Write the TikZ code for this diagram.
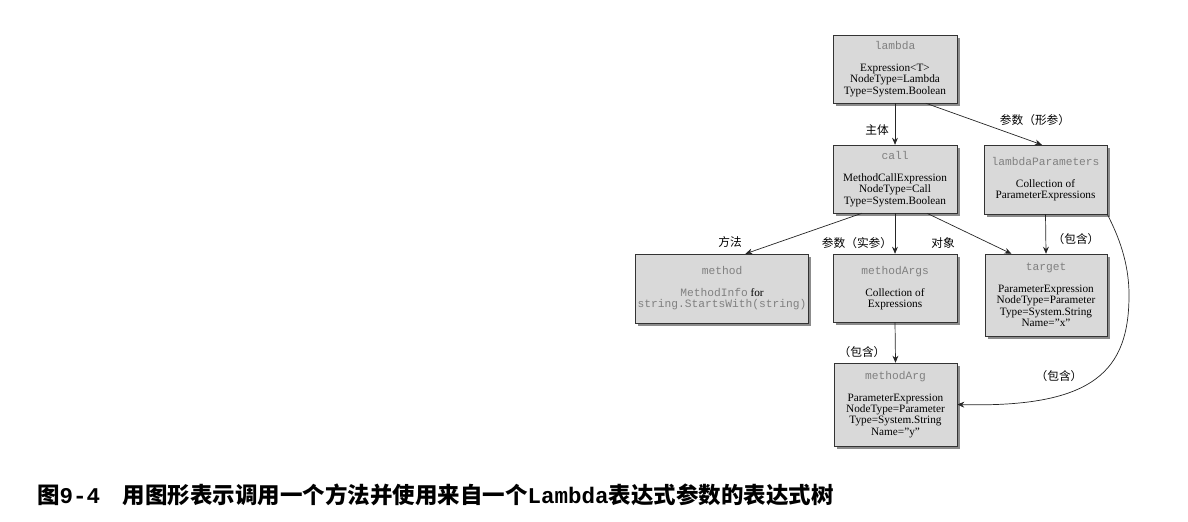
\documentclass[tikz,border=0pt]{standalone}
\usepackage{fontspec}
\setmainfont{Liberation Serif}
\setmonofont{Liberation Mono}
\newfontfamily\cjk{Noto Sans CJK SC}
\usetikzlibrary{arrows.meta,shadows}
\newcommand{\tname}[1]{{\ttfamily\color{black!50}#1}}

\begin{document}
\begin{tikzpicture}[x=0.03cm, y=-0.03cm,
    exprbox/.style={draw=black!80, fill=black!15, align=center, inner sep=2pt,
      font=\fontsize{9.6}{9.6}\selectfont,
      drop shadow={shadow xshift=2.2pt, shadow yshift=-2.2pt, fill=black!75, opacity=0.6}},
    lbl/.style={font=\cjk\fontsize{10}{10}\selectfont},
    arr/.style={-{Stealth[length=6pt,width=5pt]}, black!85, line width=0.6pt}]
    \useasboundingbox (0,0) rectangle (1188,521);

    % Root
    \node[exprbox, minimum width=3.72cm, minimum height=2.04cm] (lambda) at (895,69)
        {\tname{lambda}\\[9pt] Expression<T>\\ NodeType=Lambda\\ Type=System.Boolean};

    % Second row
    \node[exprbox, minimum width=3.72cm, minimum height=2.04cm] (call) at (895,179)
        {\tname{call}\\[9pt] MethodCallExpression\\ NodeType=Call\\ Type=System.Boolean};
    \node[exprbox, minimum width=3.69cm, minimum height=2.07cm] (params) at (1045.5,179.5)
        {\tname{lambdaParameters}\\[9pt] Collection of\\ ParameterExpressions};

    % Third row
    \node[exprbox, minimum width=5.04cm, minimum height=2.07cm] (method) at (722,288.5)
        {\tname{method}\\[9pt] \tname{MethodInfo} for\\ \tname{string.StartsWith(string)}};
    \node[exprbox, minimum width=3.72cm, minimum height=2.04cm] (args) at (895,288)
        {\tname{methodArgs}\\[9pt] Collection of\\ Expressions};
    \node[exprbox, minimum width=3.66cm, minimum height=2.46cm] (target) at (1046,295)
        {\tname{target}\\[9pt] ParameterExpression\\ NodeType=Parameter\\ Type=System.String\\ Name="x"};

    % Bottom
    \node[exprbox, minimum width=3.69cm, minimum height=2.49cm] (arg) at (895.5,404.5)
        {\tname{methodArg}\\[9pt] ParameterExpression\\ NodeType=Parameter\\ Type=System.String\\ Name="y"};

    % Connectors
    \draw[arr] (lambda.south) -- (call.north);
    \draw[arr] (lambda.-48) -- (params.96);
    \draw[arr] (call.226) -- (method.56);
    \draw[arr] (call.south) -- (args.north);
    \draw[arr] (call.-47) -- (target.130);
    \draw[arr] (params.south) -- (target.north);
    \draw[arr] (args.south) -- (arg.north);
    \coordinate (bend) at (1129,295);
    \draw[arr] (params.south east) .. controls (1118,235) and (1129,262) .. (bend)
        .. controls (1129,370) and (1095,408) .. (arg.east);

    % Labels
    \node[lbl] (lbody) at (877,130) {主体};
    \node[lbl] (lformal) at (1035,120) {参数（形参）};
    \node[lbl] (lmethod) at (730,242) {方法};
    \node[lbl] (lactual) at (857,243) {参数（实参）};
    \node[lbl] (lobject) at (943,243) {对象};
    \node[lbl] (lcont1) at (1076,239) {（包含）};
    \node[lbl] (lcont2) at (862,352) {（包含）};
    \node[lbl] (lcont3) at (1059,376) {（包含）};

    % Caption
    \node[anchor=west, inner sep=0pt, font=\cjk\bfseries\fontsize{19.2}{19.2}\selectfont] (caption) at (37,495)
        {图{\ttfamily 9-4}\hspace{1em}用图形表示调用一个方法并使用来自一个{\ttfamily Lambda}表达式参数的表达式树};
\end{tikzpicture}
\end{document}
